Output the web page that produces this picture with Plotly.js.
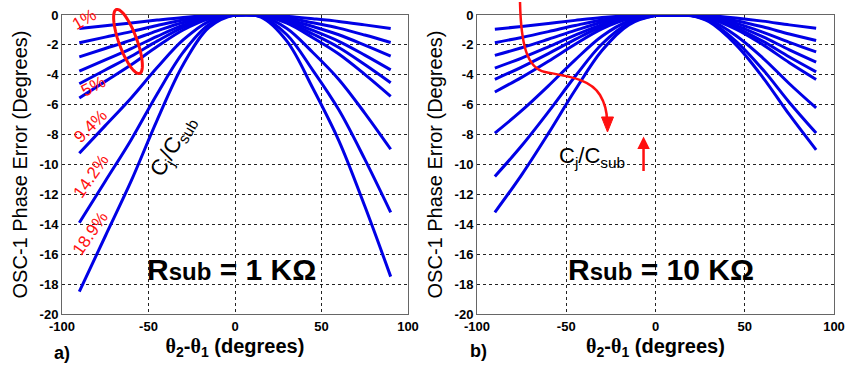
<!DOCTYPE html>
<html><head><meta charset="utf-8">
<script src="https://cdn.plot.ly/plotly-3.0.1.min.js"></script>
<style>html,body{margin:0;padding:0;background:#fff}</style>
</head><body><div id="chart" style="width:846px;height:366px"></div>
<script>
// ---- data ----
const xA = [-90,-75,-60,-45,-30,-15,0,15,30,45,60,75,90];
const a1 = [-0.9,-0.72,-0.54,-0.34,-0.16,-0.04,0,-0.01,-0.09,-0.25,-0.43,-0.66,-0.9];
const a2 = [-1.85,-1.48,-1.11,-0.7,-0.33,-0.08,0,-0.01,-0.18,-0.52,-0.88,-1.34,-1.84];
const a3 = [-2.8,-2.24,-1.68,-1.06,-0.5,-0.13,0,-0.02,-0.28,-0.77,-1.32,-2.01,-2.75];
const a4 = [-3.75,-3.0,-2.25,-1.43,-0.68,-0.17,0,-0.03,-0.37,-1.03,-1.76,-2.68,-3.67];
const a5 = [-4.6,-3.68,-2.76,-1.75,-0.83,-0.21,0,-0.04,-0.45,-1.27,-2.17,-3.31,-4.53];
const a6 = [-5.55,-4.44,-3.33,-2.11,-1.0,-0.25,0,-0.04,-0.54,-1.52,-2.61,-3.97,-5.44];
const a7 = [-9.25,-7.4,-5.55,-3.52,-1.67,-0.42,0,-0.07,-0.9,-2.51,-4.31,-6.56,-8.98];
const a8 = [-13.9,-11.12,-8.34,-5.28,-2.5,-0.63,0,-0.11,-1.32,-3.7,-6.34,-9.64,-13.2];
const a9 = [-18.5,-14.8,-11.1,-7.03,-3.33,-0.83,0,-0.14,-1.75,-4.9,-8.4,-12.78,-17.5];

const xB = [-90,-75,-60,-45,-30,-15,0,10,20,30,45,60,75,90];
const b1 = [-0.95,-0.77,-0.57,-0.36,-0.17,-0.05,0,0,0,-0.04,-0.2,-0.41,-0.66,-0.89];
const b2 = [-1.85,-1.5,-1.11,-0.7,-0.33,-0.09,-0.01,0,-0.01,-0.09,-0.38,-0.79,-1.27,-1.71];
const b3 = [-2.7,-2.19,-1.62,-1.03,-0.49,-0.14,-0.01,0,-0.01,-0.12,-0.54,-1.14,-1.83,-2.47];
const b4 = [-3.55,-2.88,-2.13,-1.35,-0.64,-0.18,-0.01,0,-0.02,-0.16,-0.69,-1.45,-2.33,-3.15];
const b5 = [-4.3,-3.48,-2.58,-1.63,-0.77,-0.22,-0.01,0,-0.02,-0.19,-0.84,-1.75,-2.81,-3.8];
const b6 = [-5.15,-4.17,-3.09,-1.96,-0.93,-0.26,-0.02,0,-0.02,-0.22,-0.95,-1.98,-3.19,-4.31];
const b7 = [-7.9,-6.4,-4.74,-3.0,-1.42,-0.4,-0.02,0,-0.03,-0.31,-1.37,-2.86,-4.6,-6.22];
const b8 = [-10.8,-8.75,-6.48,-4.1,-1.94,-0.54,-0.03,0,-0.04,-0.4,-1.74,-3.63,-5.85,-7.9];
const b9 = [-13.2,-10.69,-7.92,-5.02,-2.38,-0.66,-0.04,0,-0.05,-0.45,-1.98,-4.15,-6.67,-9.02];

const xTicks = [-100,-50,0,50,100];
const yTicks = [0,-2,-4,-6,-8,-10,-12,-14,-16,-18,-20];
const pctLabels = ['1%','5%','9.4%','14.2%','18.9%'];
const yTitle = 'OSC-1 Phase Error (Degrees)';
const xTitle = '<span style="font-family:Liberation Serif">θ</span><sub>2</sub>-<span style="font-family:Liberation Serif">θ</span><sub>1</sub> (degrees)';

// ---- build ----
const FONT = 'Liberation Sans, Arial, sans-serif';
const BLUE = '#0000e6', RED = '#ff1010';
const W = 846, H = 366;
const traces = [];
[a1,a2,a3,a4,a5,a6,a7,a8,a9].forEach(s => traces.push({x:xA, y:s, xaxis:'x', yaxis:'y', type:'scatter', mode:'lines', line:{color:BLUE, width:3, shape:'spline'}, hoverinfo:'skip'}));
[b1,b2,b3,b4,b5,b6,b7,b8,b9].forEach(s => traces.push({x:xB, y:s, xaxis:'x2', yaxis:'y2', type:'scatter', mode:'lines', line:{color:BLUE, width:3, shape:'spline'}, hoverinfo:'skip'}));

function xax(dom){ return {domain:dom, range:[-100,100], tickvals:xTicks, ticktext:xTicks.map(String), showgrid:true, griddash:'dot', gridcolor:'#222', gridwidth:1, zeroline:false, showline:true, mirror:true, linecolor:'#666', linewidth:1, ticks:'', tickfont:{family:FONT, size:13, color:'#000', weight:'bold'}, title:{text:xTitle, font:{family:FONT, size:20, color:'#000', weight:'bold'}, standoff:6}, fixedrange:true}; }
function yax(dom){ return {domain:dom, range:[-20,0], tickvals:yTicks, ticktext:yTicks.map(String), showgrid:true, griddash:'dot', gridcolor:'#222', gridwidth:1, zeroline:false, showline:true, mirror:true, linecolor:'#666', linewidth:1, ticks:'', tickfont:{family:FONT, size:13, color:'#000', weight:'bold'}, title:{text:yTitle, font:{family:FONT, size:20, color:'#000'}, standoff:6}, fixedrange:true}; }

const P = (X,Y) => (X/W).toFixed(5)+','+(1-Y/H).toFixed(5);

// rotated ellipse (pixel geometry -> paper)
let ell = '';
{ const cx=128, cy=41.5, a=34, b=9, phi=70*Math.PI/180;
  for (let i=0;i<=60;i++){ const t=2*Math.PI*i/60;
    const X=cx+a*Math.cos(t)*Math.cos(phi)-b*Math.sin(t)*Math.sin(phi);
    const Y=cy+a*Math.cos(t)*Math.sin(phi)+b*Math.sin(t)*Math.cos(phi);
    ell += (i===0?'M ':' L ')+P(X,Y); }
  ell += ' Z'; }
const curvy = 'M '+P(520,2)+' C '+P(521,45)+' '+P(527,68)+' '+P(545,72)+' C '+P(565,76)+' '+P(590,78)+' '+P(600,95)+' C '+P(606,105)+' '+P(607,112)+' '+P(607,121);
const head = 'M '+P(607.5,132)+' L '+P(601.5,117)+' L '+P(613.5,117)+' Z';

const shapes = [
  {type:'path', xref:'paper', yref:'paper', path:ell, line:{color:RED, width:3}},
  {type:'path', xref:'paper', yref:'paper', path:curvy, line:{color:RED, width:2.5}},
  {type:'path', xref:'paper', yref:'paper', path:head, line:{color:RED, width:1}, fillcolor:RED}
];

const pctPos = [[-87,-0.3,-30],[-82,-4.77,-28],[-83.7,-7.43,-45],[-83.3,-10.8,-55],[-83.7,-14.6,-55]];
const annotations = [];
pctLabels.forEach((t,i)=>annotations.push({xref:'x', yref:'y', x:pctPos[i][0], y:pctPos[i][1], text:t, textangle:pctPos[i][2], showarrow:false, font:{family:FONT, size:17, color:RED}}));
annotations.push({xref:'x', yref:'y', x:-36, y:-8.8, text:'C<sub>j</sub>/C<sub>sub</sub>', textangle:-60, showarrow:false, font:{family:FONT, size:22, color:'#000'}});
annotations.push({xref:'x2', yref:'y2', x:-35.3, y:-9.5, text:'C<sub>j</sub>/C<sub>sub</sub>', showarrow:false, font:{family:FONT, size:22, color:'#000'}});
annotations.push({xref:'x', yref:'y', x:-2.3, y:-17, text:'R<span style="font-size:24px">sub</span> = 1 KΩ', showarrow:false, font:{family:FONT, size:30, color:'#000', weight:'bold'}});
annotations.push({xref:'x2', yref:'y2', x:2.8, y:-17, text:'R<span style="font-size:24px">sub</span> = 10 KΩ', showarrow:false, font:{family:FONT, size:30, color:'#000', weight:'bold'}});
annotations.push({xref:'x2', yref:'y2', x:-6.7, y:-8.13, ax:0, ay:36, text:'', showarrow:true, arrowhead:2, arrowsize:1, arrowwidth:2.5, arrowcolor:RED});
annotations.push({xref:'paper', yref:'paper', x:62/W, y:1-353/H, xanchor:'center', yanchor:'middle', text:'a)', showarrow:false, font:{family:FONT, size:18, color:'#000', weight:'bold'}});
annotations.push({xref:'paper', yref:'paper', x:478/W, y:1-351/H, xanchor:'center', yanchor:'middle', text:'b)', showarrow:false, font:{family:FONT, size:18, color:'#000', weight:'bold'}});

const layout = {
  width:W, height:H, margin:{l:0,r:0,t:0,b:0}, showlegend:false,
  paper_bgcolor:'#fff', plot_bgcolor:'#fff',
  xaxis: xax([62/W, 408/W]), yaxis: yax([1-314/H, 1-15/H]),
  xaxis2: Object.assign(xax([477/W, 834/W]), {anchor:'y2'}),
  yaxis2: Object.assign(yax([1-314/H, 1-15/H]), {anchor:'x2'}),
  shapes, annotations
};
layout.xaxis.anchor = 'y';
layout.yaxis.anchor = 'x';
Plotly.newPlot('chart', traces, layout, {displayModeBar:false, staticPlot:true});
</script></body></html>
